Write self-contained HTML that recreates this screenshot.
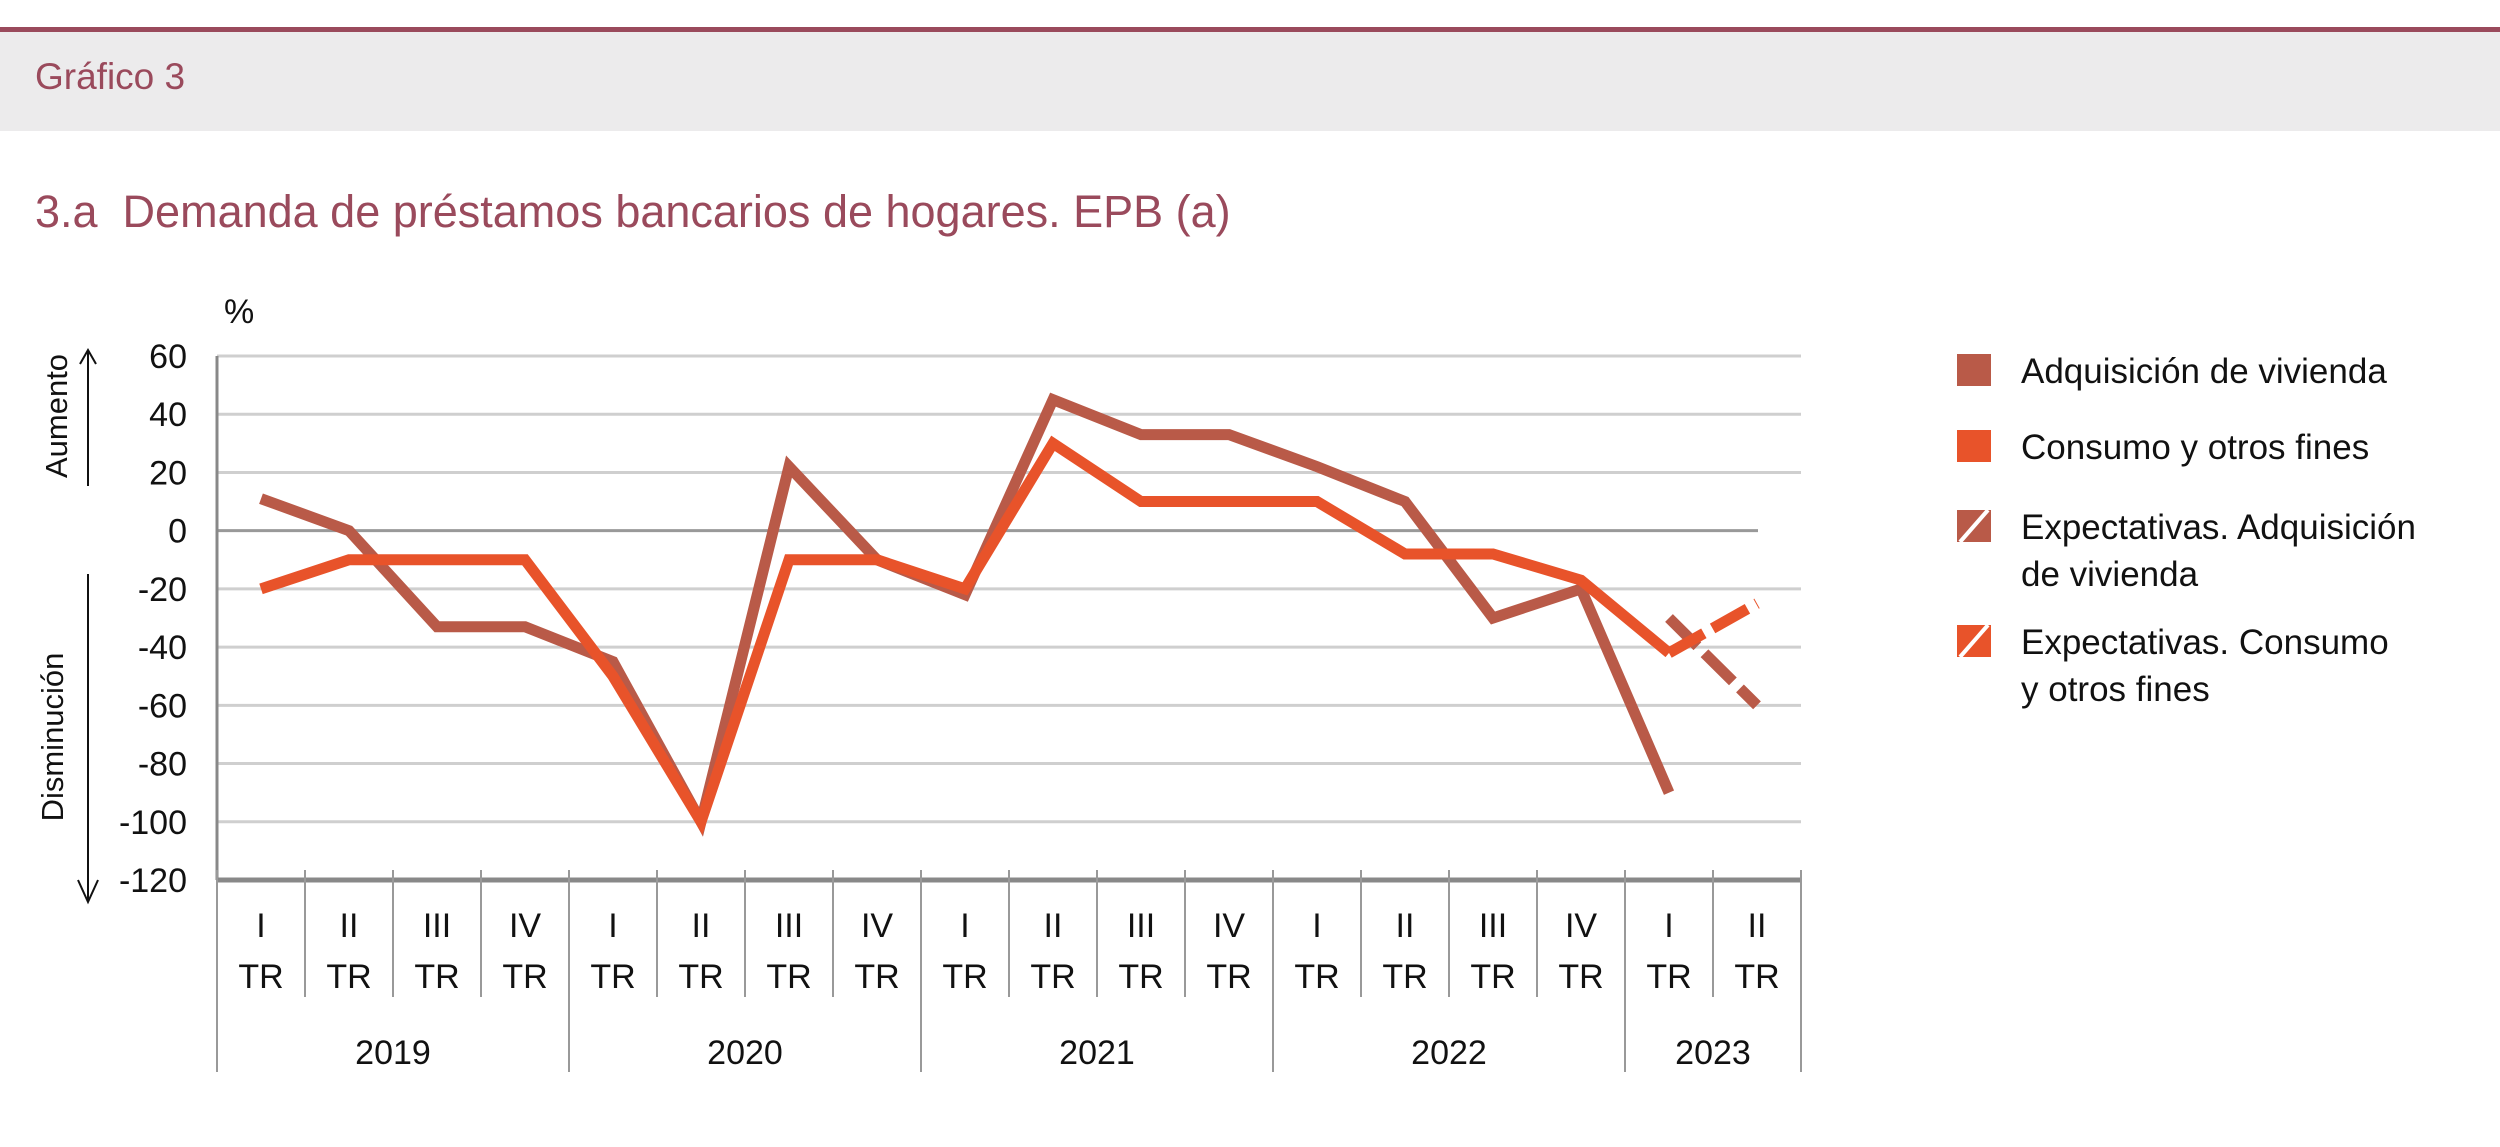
<!DOCTYPE html>
<html><head><meta charset="utf-8"><style>
body{margin:0;width:2500px;height:1147px;background:#fff;font-family:"Liberation Sans",sans-serif;overflow:hidden;position:relative}
.band{position:absolute;left:0;top:27px;width:2500px;height:104px;background:#ecebec;border-top:5px solid #9a4a5c;box-sizing:border-box}
</style></head><body>
<div class="band"></div>
<div style="position:absolute;left:35px;top:56px;font-size:37px;color:#9a4a5c">Gráfico 3</div>
<div style="position:absolute;left:35px;top:186px;font-size:45px;color:#9a4a5c">3.a&nbsp; Demanda de préstamos bancarios de hogares. EPB (a)</div>
<svg id="chart" width="2500" height="1147" style="position:absolute;left:0;top:0" font-family="Liberation Sans, sans-serif"></svg>
<script>
const quarters=["I","II","III","IV","I","II","III","IV","I","II","III","IV","I","II","III","IV","I","II"];
const years=["2019","2020","2021","2022","2023"];
const yTicks=[60,40,20,0,-20,-40,-60,-80,-100,-120];
const vivienda=[11,0,-33,-33,-45,-100,22,-10,-22,45,33,33,22,10,-30,-20,-90];
const consumo=[-20,-10,-10,-10,-50,-100,-10,-10,-20,30,10,10,10,-8,-8,-17,-42];
const expVivienda=[-30,-60];
const expConsumo=[-42,-25];
const NS="http://www.w3.org/2000/svg";
const svg=document.getElementById('chart');
const L=217,R=1801,T=356,B=880,ymin=-120,ymax=60;
const qw=(R-L)/quarters.length;
const x=i=>L+qw*(i+0.5);
const y=v=>B-(v-ymin)/(ymax-ymin)*(B-T);
function mk(t,a,txt){const e=document.createElementNS(NS,t);for(const k in a)e.setAttribute(k,a[k]);if(txt!==undefined)e.textContent=txt;svg.appendChild(e);return e;}
yTicks.forEach(v=>{
  if(v!==-120){const g=mk('line',{x1:L,x2:v===0?1758:R,y1:y(v),y2:y(v),stroke:v===0?'#999':'#cfcfcf','stroke-width':3});
  
  }
  const t=mk('text',{x:187,y:y(v)+12,'text-anchor':'end','font-size':34,fill:'#111'},v);
  
  
});
const ax=mk('line',{x1:L,x2:L,y1:T,y2:B,stroke:'#888','stroke-width':3});


const xa=mk('line',{x1:L,x2:R,y1:B,y2:B,stroke:'#888','stroke-width':5});


for(let i=0;i<=quarters.length;i++){
  const yr=(i%4===0)||i===quarters.length;
  const l=mk('line',{x1:L+qw*i,x2:L+qw*i,y1:B-10,y2:yr?1072:997,stroke:'#999','stroke-width':2});
  
  
}
quarters.forEach((q,i)=>{
  const a=mk('text',{x:x(i),y:937,'text-anchor':'middle','font-size':34,fill:'#111'},q);
  
  
  const b=mk('text',{x:x(i),y:988,'text-anchor':'middle','font-size':34,fill:'#111'},'TR');
  
  
});
years.forEach((yr,j)=>{
  const n=j<4?4:2;const cx=L+qw*(j*4+n/2);
  const t=mk('text',{x:cx,y:1064,'text-anchor':'middle','font-size':34,fill:'#111'},yr);
  
  
});
function line(arr,off,col,name,dash){
  const p=arr.map((v,i)=>x(i+off)+','+y(v)).join(' ');
  const e=mk('polyline',{points:p,fill:'none',stroke:col,'stroke-width':11,'stroke-linejoin':'miter'});
  if(dash)e.setAttribute('stroke-dasharray',dash);
  
  
}
line(vivienda,0,'#b95a48','line-adquisicion-vivienda');
line(consumo,0,'#e8532a','line-consumo');
line(expVivienda,16,'#b95a48','line-expectativas-vivienda','40,10');
line(expConsumo,16,'#e8532a','line-expectativas-consumo','40,10');
const pct=mk('text',{x:224,y:323,'font-size':34,fill:'#111'},'%');


const au=mk('text',{x:0,y:0,'font-size':31,fill:'#111','text-anchor':'middle',transform:'translate(67,416) rotate(-90)'},'Aumento');


const di=mk('text',{x:0,y:0,'font-size':31,fill:'#111','text-anchor':'middle',transform:'translate(63,737) rotate(-90)'},'Disminución');


const a1=mk('path',{d:'M88,486 V352 M80,364 L88,350 L96,364',stroke:'#111','stroke-width':2,fill:'none'});


const a2=mk('path',{d:'M88,574 V900 M78,880 L88,902 L98,880',stroke:'#111','stroke-width':2,fill:'none'});


const leg=[["#b95a48",false,["Adquisición de vivienda"],354],["#e8532a",false,["Consumo y otros fines"],430],["#b95a48",true,["Expectativas. Adquisición","de vivienda"],510],["#e8532a",true,["Expectativas. Consumo","y otros fines"],625]];
leg.forEach((l,i)=>{
  const r=mk('rect',{x:1957,y:l[3],width:34,height:32,fill:l[0]});
  
  
  if(l[1]){const s=mk('line',{x1:1960,y1:l[3]+32,x2:1988,y2:l[3],stroke:'#fff','stroke-width':4});
  
  }
  l[2].forEach((t,k)=>{const e=mk('text',{x:2021,y:l[3]+29+k*47,'font-size':35,fill:'#111'},t);
  
  });
});
</script>
</body></html>
